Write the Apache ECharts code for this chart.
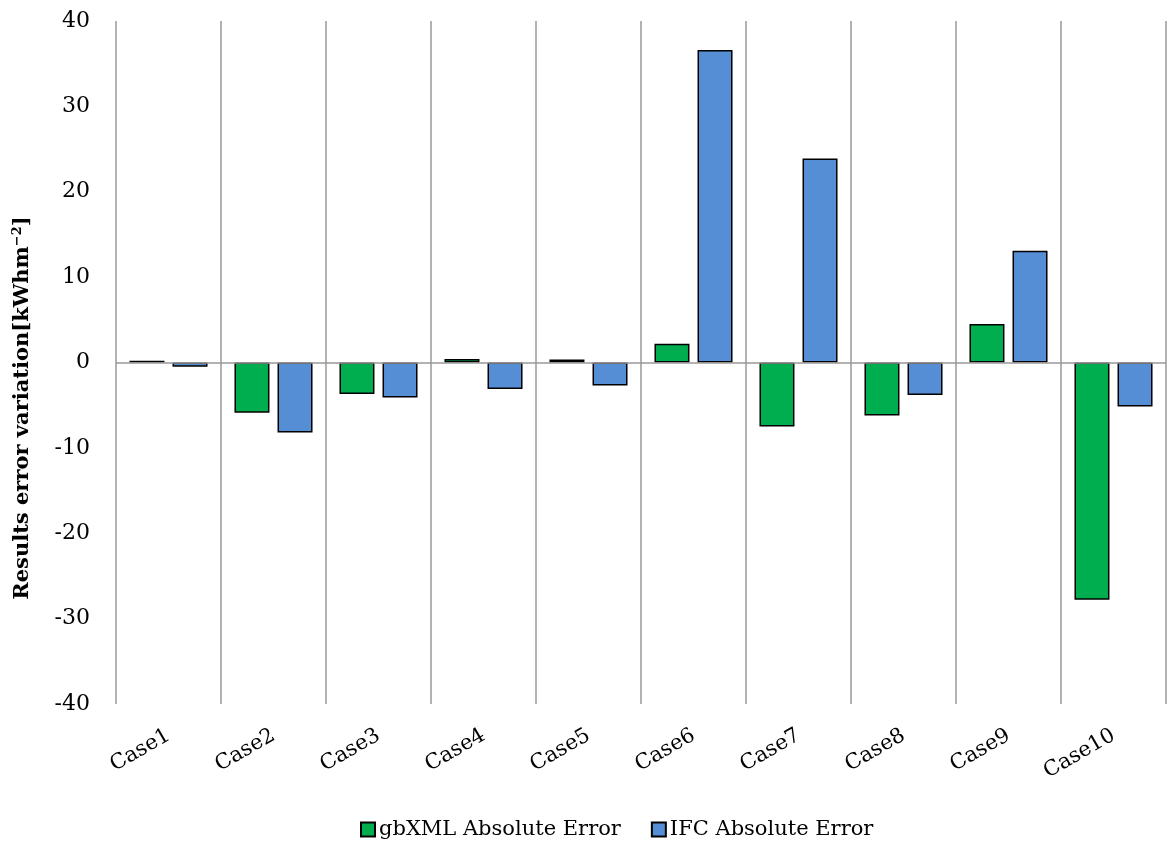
<!DOCTYPE html>
<html>
<head>
<meta charset="utf-8">
<title>Results error variation</title>
<script src="https://cdn.jsdelivr.net/npm/echarts@6/dist/echarts.min.js"></script>
<style>
  html, body { margin: 0; padding: 0; background: #fff; }
  #bar-charts { width: 1173px; height: 848px; }
</style>
</head>
<body>
<div id="bar-charts"></div>
<script>
// categories and values
var cases = ["Case1", "Case2", "Case3", "Case4", "Case5", "Case6", "Case7", "Case8", "Case9", "Case10"];
var gbxmlError = [0.2, -5.9, -3.7, 0.4, 0.35, 2.2, -7.5, -6.2, 4.5, -27.8];
var ifcError = [-0.5, -8.2, -4.1, -3.1, -2.7, 36.6, 23.9, -3.8, 13.1, -5.15];
var seriesNames = ["gbXML Absolute Error", "IFC Absolute Error"];

var FONT = "DejaVu Serif";

var myCharts = echarts.init(document.getElementById("bar-charts"));

var options = {
  animation: false,
  textStyle: { fontFamily: FONT },
  grid: {
    left: 116,
    right: 7,
    top: 21,
    bottom: 144
  },
  legend: {
    data: seriesNames,
    bottom: 3,
    left: 355,
    icon: "rect",
    itemWidth: 14,
    itemHeight: 14,
    itemGap: 30,
    textStyle: { fontFamily: FONT, fontSize: 21, color: "#000", padding: [0, 0, 0, -1] }
  },
  xAxis: {
    type: "category",
    data: cases,
    axisLine: { show: false },
    axisTick: { show: false },
    splitLine: {
      show: true,
      interval: 0,
      lineStyle: { color: "#999", width: 1.5 }
    },
    axisLabel: {
      interval: 0,
      rotate: 30,
      margin: 30,
      fontFamily: FONT,
      fontSize: 21,
      color: "#000"
    }
  },
  yAxis: {
    type: "value",
    min: -40,
    max: 40,
    interval: 10,
    axisLine: { show: false },
    axisTick: { show: false },
    splitLine: { show: false },
    axisLabel: {
      margin: 26,
      fontFamily: FONT,
      fontSize: 22,
      color: "#000"
    }
  },
  //纵轴标题，手动放置
  graphic: [
    {
      type: "text",
      x: 23,
      y: 408,
      rotation: Math.PI / 2,
      style: {
        text: "Results error variation[kWhm{sup|−2}]",
        fontFamily: FONT,
        fontWeight: "bold",
        fontSize: 21,
        fill: "#000",
        align: "center",
        verticalAlign: "middle",
        rich: {
          sup: {
            fontFamily: FONT,
            fontWeight: "bold",
            fontSize: 13,
            verticalAlign: "top",
            padding: [0, 0, 10, 0]
          }
        }
      }
    }
  ],
  series: [
    {
      name: seriesNames[0],
      type: "bar",
      data: gbxmlError,
      barWidth: 35,
      barGap: "23%",
      itemStyle: { color: "#00AD4F", borderColor: "#000", borderWidth: 1.5 },
      markLine: {
        silent: true,
        symbol: "none",
        label: { show: false },
        lineStyle: { color: "#999", width: 1.5, type: "solid" },
        data: [{ yAxis: 0 }]
      }
    },
    {
      name: seriesNames[1],
      type: "bar",
      data: ifcError,
      barWidth: 35,
      barGap: "23%",
      itemStyle: { color: "#558ED5", borderColor: "#000", borderWidth: 1.5 }
    }
  ]
};

myCharts.setOption(options);
</script>
</body>
</html>
